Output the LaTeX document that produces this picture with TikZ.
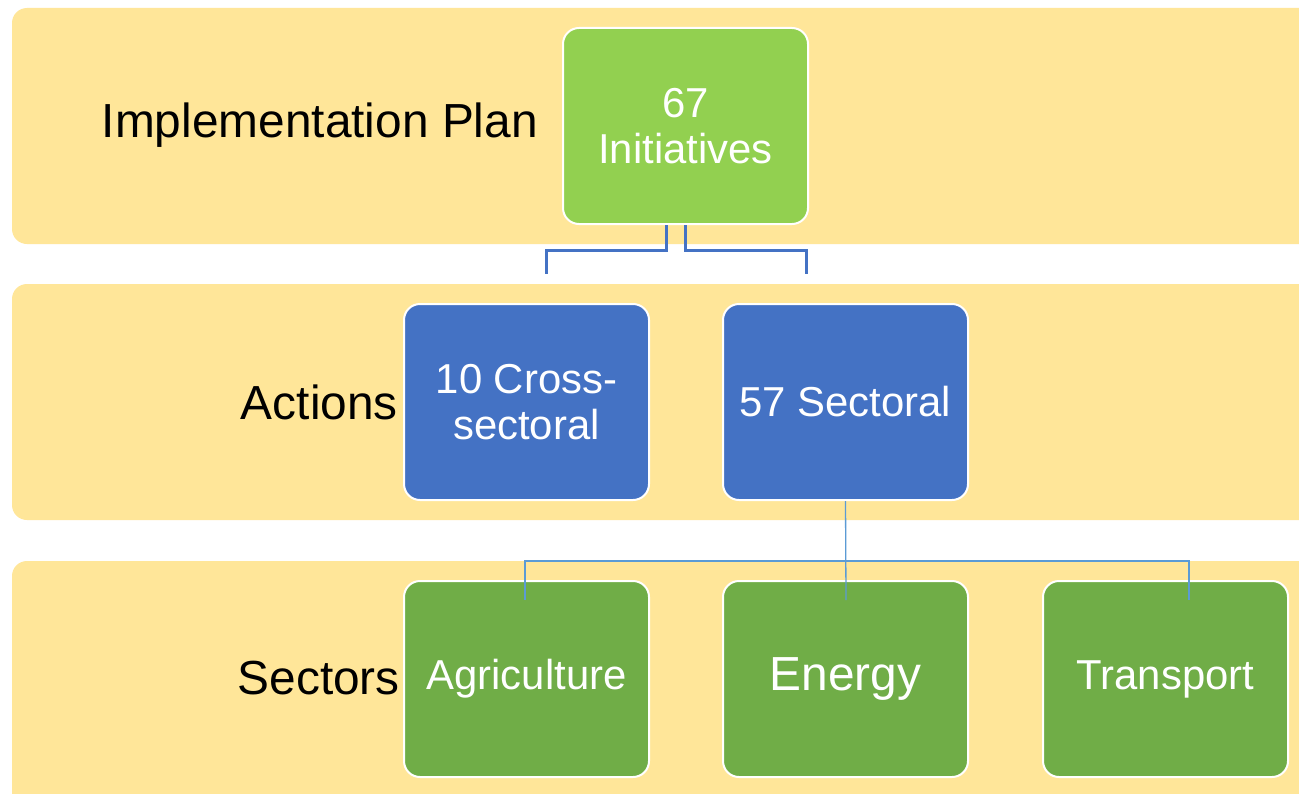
\documentclass[tikz,border=0pt]{standalone}
\usepackage{fontspec}
\setmainfont{Liberation Sans}
\definecolor{band}{HTML}{FFE699}
\definecolor{topgreen}{HTML}{92D050}
\definecolor{midblue}{HTML}{4472C4}
\definecolor{botgreen}{HTML}{70AD47}
\definecolor{thinblue}{HTML}{5B9BD5}
\begin{document}
\begin{tikzpicture}[x=1bp,y=-1bp,
  bandbox/.style={fill=band,draw=none,rounded corners=15bp},
  card/.style={draw=white,line width=2bp,rounded corners=16bp,minimum width=245bp,minimum height=196bp,inner sep=0pt,text=white,align=center,font=\fontsize{42}{46}\selectfont},
  lbl/.style={anchor=east,inner sep=0pt,text=black,font=\fontsize{48}{52}\selectfont},
  thick conn/.style={draw=midblue,line width=3bp},
  thin conn/.style={draw=thinblue,line width=1.3bp}]
\useasboundingbox (0,0) rectangle (1299,793);
\fill[white] (0,0) rectangle (1299,793);
% bands
\path[bandbox] (12,8) rectangle (1330,244);
\path[bandbox] (12,284) rectangle (1330,520);
\path[bandbox] (12,561) rectangle (1330,830);
% labels
\node[lbl] (lplan) at (538,125) {Implementation Plan};
\node[lbl] (lact) at (398,402) {Actions};
\node[lbl] (lsec) at (400,678) {Sectors};
% boxes
\node[card,fill=topgreen] (init) at (685.5,126) {67\\Initiatives};
\node[card,fill=midblue] (cross) at (526.5,402) {10 Cross-\\sectoral};
\node[card,fill=midblue] (sect) at (845.5,402) {57 Sectoral};
\node[card,fill=botgreen] (agri) at (526.5,679) {\raisebox{-3bp}{Agriculture}};
\node[card,fill=botgreen,font=\fontsize{48}{52}\selectfont] (ener) at (845.5,679) {\raisebox{-3bp}{Energy}};
\node[card,fill=botgreen] (trans) at (1165.5,679) {\raisebox{-3bp}{Transport}};
% top connectors
\coordinate (c1) at (546,274);
\coordinate (c2) at (806,274);
\draw[thick conn] ([xshift=-19bp]init.south) |- (546,250) -- (c1);
\draw[thick conn] (init.south) |- (806,250) -- (c2);
% bottom connectors
\coordinate (e1) at (846,600);
\coordinate (a1) at (525,600);
\coordinate (t1) at (1189,600);
\draw[thin conn] (sect.south) -- (e1);
\draw[thin conn] (a1) |- (1189,561) -- (t1);
\end{tikzpicture}
\end{document}
